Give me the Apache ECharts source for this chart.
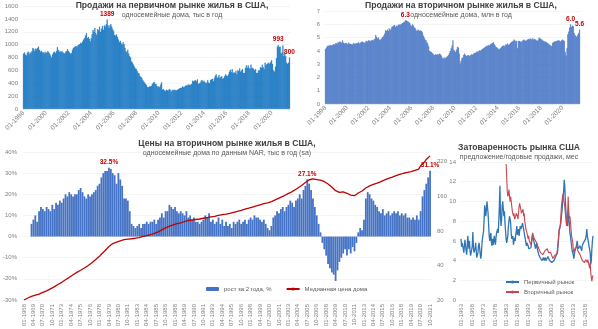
<!DOCTYPE html>
<html><head><meta charset="utf-8">
<script src="https://cdn.jsdelivr.net/npm/echarts@6/dist/echarts.min.js"></script>
<style>html,body{margin:0;padding:0;background:#fff}#c{width:598px;height:329px}</style>
</head><body><div id="c"></div>
<script>
// ---------- DATA ----------
// Panel 1: new home sales, single-family, thousands/yr (monthly 01-1998 .. 08-2021)
const newSales = [
860,880,845,830,875,890,850,880,870,900,950,935,
900,940,925,950,970,920,890,905,880,880,860,890,
870,880,900,880,860,830,800,850,880,890,870,900,
960,920,890,900,880,900,880,870,860,890,900,930,
900,880,860,870,920,950,960,970,980,960,990,1000,
1010,1030,1020,1050,1080,1100,1140,1180,1100,1120,1090,1050,
1100,1160,1230,1200,1260,1180,1150,1240,1220,1280,1200,1250,
1290,1230,1300,1280,1320,1389,1300,1260,1300,1320,1280,1240,
1210,1150,1140,1160,1120,1080,1040,1060,1020,1000,1040,1010,
950,900,880,920,860,820,800,740,720,690,660,630,
620,590,560,550,510,500,480,450,430,410,390,370,
340,340,350,350,360,390,410,420,390,390,360,340,
350,340,380,414,300,310,290,280,300,290,290,310,
300,270,290,300,290,300,290,290,300,310,320,330,
330,350,340,340,360,370,360,380,380,370,380,390,
440,430,440,450,430,460,390,400,410,440,450,420,
440,420,400,410,450,410,400,450,460,470,430,480,
520,540,480,500,530,480,500,510,470,480,510,540,
520,510,540,580,610,570,620,560,570,560,590,540,
600,590,630,580,600,620,560,560,640,680,640,680,
640,620,690,640,640,620,600,620,560,560,600,600,
650,640,690,650,620,720,680,700,710,720,700,730,
760,700,600,580,660,790,970,993,960,970,860,880,
990,820,870,820,720,700,720,800];
const newLabelAt = ['06-2005','08-2020','08-2021'];

// Panel 2: existing home sales, single-family, mln/yr (monthly 01-1998 .. 08-2021)
const existingSales = [
4.15,4.25,4.35,4.40,4.38,4.45,4.42,4.40,4.45,4.50,4.48,4.55,
4.60,4.50,4.65,4.62,4.70,4.68,4.60,4.80,4.62,4.55,4.58,4.60,
4.55,4.50,4.62,4.55,4.52,4.50,4.48,4.58,4.55,4.52,4.58,4.55,
4.60,4.65,4.55,4.62,4.68,4.70,4.65,4.62,4.60,4.72,4.75,4.70,
4.80,4.78,4.72,4.80,4.82,4.75,4.85,4.90,5.20,5.05,4.95,5.00,
4.85,4.80,4.90,5.00,5.05,5.15,5.30,5.55,5.50,5.60,5.50,5.70,
5.55,5.65,5.80,5.85,5.90,5.95,5.80,5.90,5.85,5.95,6.00,5.95,
6.00,6.05,6.10,6.15,6.20,6.30,6.28,6.25,6.22,6.15,6.10,5.95,
5.85,6.00,5.90,5.75,5.70,5.55,5.50,5.60,5.55,5.50,5.55,5.50,
5.40,5.15,5.00,4.85,4.80,4.65,4.55,4.35,4.00,3.95,3.90,3.85,
3.75,3.70,3.70,3.75,3.70,3.75,3.72,3.80,3.75,3.65,3.45,3.50,
3.40,3.50,3.45,3.55,3.60,3.70,3.85,4.00,4.20,4.40,4.80,4.10,
4.00,3.90,4.10,4.30,4.25,3.80,3.05,3.25,3.45,3.50,3.70,3.80,
3.70,3.60,3.65,3.70,3.65,3.60,3.70,3.75,3.70,3.80,3.85,3.85,
3.90,3.95,3.90,4.00,4.05,4.00,4.10,4.15,4.20,4.25,4.30,4.35,
4.40,4.35,4.45,4.40,4.50,4.55,4.60,4.65,4.50,4.40,4.30,4.25,
4.20,4.10,4.15,4.20,4.30,4.35,4.40,4.40,4.35,4.50,4.45,4.55,
4.45,4.50,4.60,4.65,4.70,4.75,4.85,4.80,4.70,4.75,4.20,4.75,
4.75,4.70,4.65,4.75,4.80,4.85,4.80,4.75,4.80,4.85,4.90,4.85,
4.95,4.90,4.85,4.95,4.85,4.90,4.85,4.80,4.75,4.85,5.00,4.95,
4.90,4.85,4.80,4.75,4.70,4.70,4.65,4.60,4.55,4.50,4.45,4.40,
4.35,4.60,4.65,4.70,4.70,4.75,4.75,4.80,4.80,4.75,4.70,4.80,
4.85,4.80,4.75,3.90,3.65,4.20,5.25,5.45,5.75,6.00,5.80,5.90,
5.85,5.35,5.20,5.10,5.05,5.20,5.35,5.60];
const existingLabelAt = ['06-2005','10-2020','08-2021'];

// Panel 3: 2-year growth of median price, % (quarterly 01-1968 .. 10-2021)
const priceGrowth2y = [
null,null,null,null,
6,8,10,7, 12,14,13,12, 14,13,12,15, 13,16,15,17, 16,18,20,19,
21,20,19,20, 20,22,23,21, 19,18,20,19, 20,21,22,24, 25,28,30,31,
31,32.5,32,30, 29,25,30,27, 24,18,18,17, 12,6,5,4, 5,6,4,6,
6,7,6,7, 7,8,6,8, 9,11,9,12, 12,15,14,13, 14,12,11,12,
11,10,12,9, 10,8,9,7, 7,6,7,8, 10,9,11,7, 8,6,7,9,
6,8,5,7, 5,6,4,7, 6,7,8,6, 7,8,6,8, 9,8,10,9,
9,8,7,8, 6,4,3,5, 9,10,12,11, 13,14,12,14, 15,17,16,14,
17,18,20,18, 22,24,27.1,25, 22,18,14,10, 6,2,-3,-6, -9,-13,-15,-17,
-18,-21,-16,-12, -10,-8,-6,-9, -6,-8,-5,-7, -3,2,4,3, 8,18,21,20,
18,17,15,14, 12,11,13,10, 11,12,10,11, 12,11,12,10, 11,10,11,9,
9,8,9,8, 10,8,12,19, 22,25,28,31.1];
const growthLabelAt = ['04-1979','07-2005','10-2021'];

// Panel 3: median existing home price, thousand $ (quarterly 01-1968 .. 10-2021)
const medianPrice = [
20.0,20.5,20.8,21.0, 21.5,21.8,22.0,22.2, 22.5,23.0,23.3,23.5, 24.0,24.6,25.0,25.4,
26.0,26.7,27.3,27.8, 28.5,29.3,30.0,30.8, 31.5,32.3,33.2,34.0, 34.8,35.6,36.3,37.2,
38.0,39.0,40.0,41.0, 42.2,43.6,45.0,46.5, 48.0,50.0,52.0,54.0, 56.0,58.5,60.5,62.0,
63.0,63.8,64.5,65.5, 66.5,67.0,67.5,67.8, 68.0,68.3,68.5,69.0, 69.5,70.0,71.0,71.5,
72.0,72.8,73.5,74.0, 75.0,76.0,77.0,78.5, 80.0,81.5,83.5,85.0, 86.5,88.0,89.0,90.0,
91.0,92.5,93.5,94.0, 95.5,96.5,97.5,98.5, 99.0,99.5,100.0,100.5, 101.0,101.5,102.5,103.0,
104.0,104.5,105.0,106.0, 106.5,107.0,108.0,109.0, 110.0,111.0,111.5,112.0, 112.5,113.5,114.5,116.0,
117.0,118.5,119.5,120.5, 122.0,123.5,124.5,126.0, 127.5,129.0,130.5,132.0, 133.5,135.0,136.5,138.0,
139.0,140.5,142.0,144.0, 146.5,149.0,152.0,154.5, 157.0,160.0,163.0,166.0, 169.0,172.0,176.0,180.0,
184.0,189.0,194.0,199.0, 205.0,211.0,218.0,223.0, 226.0,227.0,226.0,224.0, 223.0,221.0,219.0,215.0,
210.0,205.0,200.0,193.0, 186.0,179.0,175.0,173.0, 174.0,175.0,173.0,170.0, 167.0,164.0,162.0,162.0,
165.0,171.0,175.0,178.0, 183.0,189.0,194.0,197.0, 200.0,203.0,206.0,208.0, 211.0,215.0,219.0,222.0,
225.0,229.0,232.0,235.0, 238.0,242.0,245.0,248.0, 251.0,254.0,256.0,258.0, 260.0,263.0,266.0,269.0,
272.0,276.0,295.0,305.0, 318.0,335.0,348.0,360.0];
const priceTicks = [20, 40, 80, 160, 320];

// Panel 4: months' supply (quarterly 01-1963 .. 07-2021)
const supplyNew = [
6.2,5.4,5.8,6.0, 5.2,4.8,5.5,6.1, 5.6,5.0,4.6,5.3, 6.5,5.8,5.2,6.0, 5.0,4.5,4.7,5.1,
5.5,6.9,5.4,4.8, 4.6,5.2,5.8,5.0, 4.3,4.1,4.8,5.5, 5.8,5.3,4.7,4.2, 4.5,5.6,6.2,6.0,
7.0,8.2,9.6,9.0, 8.5,9.2,10.0,9.8, 8.8,7.6,6.5,6.0, 6.5,6.8,5.8,5.5, 6.2,5.6,6.0,6.5,
6.0,5.6,6.3,6.8, 6.6,7.2,6.8,8.0, 9.5,11.6,8.5,7.5, 8.2,9.5,10.0,9.2, 8.5,9.0,7.8,7.0,
6.2,5.8,6.0,6.5, 7.5,8.0,8.5,8.2, 7.8,6.8,6.2,6.0, 6.5,5.6,6.0,6.3, 6.0,6.6,7.0,7.5,
6.6,6.8,7.2,6.5, 7.0,7.5,7.2,7.0, 7.5,7.8,8.0,7.2, 7.0,6.5,6.2,6.0, 5.5,5.8,6.0,5.5,
5.2,5.0,5.4,5.0, 5.3,5.8,6.2,6.5, 6.5,6.0,5.8,5.5, 5.2,5.5,5.8,5.3, 5.0,4.8,4.6,4.5,
4.3,4.2,4.4,4.1, 4.0,4.2,4.3,4.1, 4.0,4.3,4.2,4.0, 4.2,4.1,4.4,4.6, 4.2,4.0,3.9,4.0,
3.9,3.8,3.9,4.0, 3.8,4.0,4.1,4.3, 4.2,4.3,4.5,4.8, 5.5,6.2,7.0,6.8, 7.0,7.8,8.5,9.0,
9.8,10.5,11.0,12.2, 11.5,10.0,9.0,8.0, 7.8,7.5,9.0,8.2, 7.8,6.8,6.5,6.0, 5.5,5.0,4.8,4.6,
4.2,4.3,5.0,5.2, 5.3,5.5,6.0,5.5, 5.2,5.0,5.3,5.5, 5.4,5.3,5.0,5.5, 5.5,5.8,6.0,5.6,
5.8,6.2,6.6,7.2, 6.5,6.3,5.8,5.6, 5.8,4.8,3.6,4.0, 5.2,6.0,6.5];
const existingStart = '01-1983';
const supplyExisting = [
13.8,12.5,11.0,10.5, 10.8,11.2,10.5,10.0, 10.5,10.0,9.5,9.0, 9.2,8.5,8.8,8.2, 8.0,8.5,8.8,9.0,
8.5,8.2,8.8,9.5, 9.8,9.5,9.2,8.8, 9.0,8.8,9.2,8.5, 8.8,8.0,7.6,7.2, 7.0,6.8,6.5,6.2,
6.5,6.0,6.2,5.8, 5.6,6.0,6.5,6.8, 7.0,6.8,6.2,6.0, 6.2,6.0,5.8,5.6, 5.5,5.6,5.2,5.0,
5.0,4.8,5.0,4.9, 4.8,4.6,4.8,4.7, 4.8,5.0,5.1,4.9, 5.0,5.2,5.0,4.8, 4.9,5.0,4.7,4.8,
4.6,4.5,4.3,4.2, 4.4,4.3,4.5,4.4, 4.5,4.4,4.7,5.2, 5.8,6.5,7.2,7.0, 7.5,8.5,9.5,10.0,
10.5,10.8,10.2,10.0, 9.5,8.8,8.2,7.5, 8.2,8.5,10.5,9.0, 8.2,8.5,8.0,7.2, 6.5,6.2,5.9,5.2,
4.8,5.0,5.2,5.0, 5.2,5.4,5.5,5.0, 4.8,5.0,4.9,4.6, 4.5,4.6,4.5,4.0, 4.0,4.2,4.2,3.8,
3.8,4.1,4.3,3.9, 3.8,4.1,4.0,3.5, 3.2,3.8,2.8,2.3, 1.9,2.3,2.5];

// ---------- CATEGORIES ----------
function periodCats(y0, m0, stepMonths, n) {
  const a = [];
  for (let i = 0; i < n; i++) {
    const k = (m0 - 1) + i * stepMonths;
    const m = k % 12 + 1, y = y0 + Math.floor(k / 12);
    a.push(String(m).padStart(2, '0') + '-' + y);
  }
  return a;
}
const monthCats = periodCats(1998, 1, 1, newSales.length);
const quarterCats = periodCats(1968, 1, 3, medianPrice.length);
const supplyCats = periodCats(1963, 1, 3, supplyNew.length);
const existingOffset = supplyCats.indexOf(existingStart);
const supplyExistingFull = supplyCats.map((c, i) => i < existingOffset ? null : supplyExisting[i - existingOffset]);

// ---------- STYLE ----------
const FF = '"Liberation Sans", Arial, sans-serif';
const GRAY = '#7f7f7f';
const LBL = '#C00000';
function withLabels(vals, cats, at, fmt) {
  return vals.map((v, i) => at.indexOf(cats[i]) >= 0 ? {
    value: v, label: { show: true, position: 'top', distance: 2, color: LBL, fontSize: 6.5,
      fontWeight: 'bold', fontFamily: FF, formatter: p => fmt(p.value) }
  } : v);
}
const axLabel = (extra) => Object.assign({ color: GRAY, fontSize: 6, fontFamily: FF }, extra);
const plain = v => String(v);
const split = { show: true, lineStyle: { color: '#ececec', width: 0.6 } };

const chart = echarts.init(document.getElementById('c'), null, { renderer: 'canvas' });
const mkTitle = (text, sub, cx, top) => ({
  text, subtext: sub, left: cx, top, textAlign: 'center', padding: 0, itemGap: 2,
  textStyle: { fontSize: 8.6, fontWeight: 'bold', color: '#404040', fontFamily: FF },
  subtextStyle: { fontSize: 7, color: '#595959', fontFamily: FF }
});

chart.setOption({
  animation: false,
  backgroundColor: '#fff',
  title: [
    mkTitle('Продажи на первичном рынке жилья в США,', 'односемейные дома, тыс в год', 172, 1),
    mkTitle('Продажи на вторичном рынке жилья в США,', 'односемейные дома, млн в год', 461, 1),
    mkTitle('Цены на вторичном рынке жилья в США,', 'односемейные дома по данным NAR, тыс в год (sa)', 227, 139),
    mkTitle('Затоваренность рынка США', 'предложение/годовые продажи, мес', 519, 143)
  ],
  legend: [
    { data: ['рост за 2 года, %', 'Медианная цена дома'], left: 206, top: 286, padding: 0,
      itemWidth: 13, itemHeight: 4, itemGap: 14, selectedMode: false,
      textStyle: { fontSize: 6, color: '#595959', fontFamily: FF } },
    { data: ['Первичный рынок', 'Вторичный рынок'], orient: 'vertical', left: 505, top: 279, padding: 0,
      itemWidth: 13, itemHeight: 4, itemGap: 4, selectedMode: false,
      textStyle: { fontSize: 6, color: '#595959', fontFamily: FF } }
  ],
  grid: [
    { left: 23, top: 6, width: 267, height: 103 },
    { left: 325, top: 11, width: 255, height: 93 },
    { left: 20, top: 152, width: 411, height: 150 },
    { left: 461, top: 162, width: 132, height: 139 }
  ],
  xAxis: [
    { type: 'category', gridIndex: 0, data: monthCats, axisTick: { show: false }, axisLine: { show: false },
      axisLabel: axLabel({ interval: 23, rotate: 45, margin: 3, fontSize: 6.5 }) },
    { type: 'category', gridIndex: 1, data: monthCats, axisTick: { show: false }, axisLine: { show: false },
      axisLabel: axLabel({ interval: 23, rotate: 45, margin: 3, fontSize: 6.5 }) },
    { type: 'category', gridIndex: 2, data: quarterCats, axisTick: { show: false }, axisLine: { show: false },
      axisLabel: axLabel({ interval: 4, rotate: 90, margin: 4 }) },
    { type: 'category', gridIndex: 3, data: supplyCats, boundaryGap: false, axisTick: { show: false },
      axisLine: { show: false }, axisLabel: axLabel({ interval: 19, rotate: 90, margin: 4 }) }
  ],
  yAxis: [
    { type: 'value', gridIndex: 0, min: 0, max: 1600, interval: 200, splitLine: split,
      axisLabel: axLabel({ margin: 5, formatter: plain }) },
    { type: 'value', gridIndex: 1, min: 0, max: 7, interval: 1, splitLine: split,
      axisLabel: axLabel({ margin: 5, formatter: plain }) },
    { type: 'value', gridIndex: 2, min: -30, max: 40, interval: 10, splitLine: split,
      axisLabel: axLabel({ margin: 6, formatter: '{value}%' }) },
    { type: 'value', gridIndex: 2, position: 'right', min: 0, max: Math.log2(389 / priceTicks[0]), interval: 1,
      splitLine: { show: false },
      axisLabel: axLabel({ margin: 6, showMaxLabel: false,
        formatter: v => String(Math.round(priceTicks[0] * Math.pow(2, v))) }) },
    { type: 'value', gridIndex: 3, min: 0, max: 14, interval: 2, splitLine: split,
      axisLabel: axLabel({ margin: 5, formatter: plain }) }
  ],
  series: [
    { type: 'bar', xAxisIndex: 0, yAxisIndex: 0, barCategoryGap: '0%',
      itemStyle: { color: '#0A6EBD', borderColor: '#0A6EBD', borderWidth: 0.3 },
      data: withLabels(newSales, monthCats, newLabelAt, v => String(v)) },
    { type: 'bar', xAxisIndex: 1, yAxisIndex: 1, barCategoryGap: '0%',
      itemStyle: { color: '#4472C4', borderColor: '#4472C4', borderWidth: 0.3 },
      data: withLabels(existingSales, monthCats, existingLabelAt, v => v.toFixed(1)) },
    { name: 'рост за 2 года, %', type: 'bar', xAxisIndex: 2, yAxisIndex: 2, barCategoryGap: '5%',
      itemStyle: { color: '#4472C4' },
      data: withLabels(priceGrowth2y, quarterCats, growthLabelAt, v => v.toFixed(1) + '%') },
    { name: 'Медианная цена дома', type: 'line', xAxisIndex: 2, yAxisIndex: 3, symbol: 'none',
      lineStyle: { color: '#C00000', width: 1.3 }, itemStyle: { color: '#C00000' },
      data: medianPrice.map(v => Math.log2(v / priceTicks[0])) },
    { name: 'Первичный рынок', type: 'line', xAxisIndex: 3, yAxisIndex: 4, symbol: 'none',
      lineStyle: { color: '#2E75B6', width: 1.3 }, itemStyle: { color: '#2E75B6' }, data: supplyNew },
    { name: 'Вторичный рынок', type: 'line', xAxisIndex: 3, yAxisIndex: 4, symbol: 'none',
      lineStyle: { color: '#C8464F', width: 1.1 }, itemStyle: { color: '#C8464F' }, data: supplyExistingFull }
  ]
});
</script></body></html>
